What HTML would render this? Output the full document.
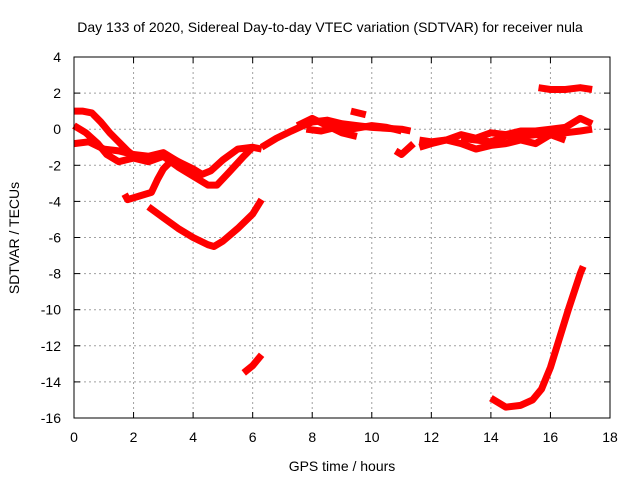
<!DOCTYPE html>
<html><head><meta charset="utf-8"><style>
body{margin:0;background:#fff}
svg{display:block;font-family:"Liberation Sans",sans-serif}
</style></head><body>
<svg id="chart" width="640" height="480">
<text x="330" y="32" font-size="14" text-anchor="middle">Day 133 of 2020, Sidereal Day-to-day VTEC variation (SDTVAR) for receiver nula</text>
<text x="342" y="471" font-size="14" text-anchor="middle">GPS time / hours</text>
<text transform="translate(19,238) rotate(-90)" font-size="14" text-anchor="middle">SDTVAR / TECUs</text>
<g id="grid"></g><g id="ticks"></g><g id="series"></g>
<rect x="74" y="57" width="536" height="361" fill="none" stroke="#000" stroke-width="1"/>
</svg>
<script>
const xTicks=[0,2,4,6,8,10,12,14,16,18];
const yTicks=[4,2,0,-2,-4,-6,-8,-10,-12,-14,-16];
const seriesA=[[0,1.0],[0.3,1.0],[0.6,0.9],[0.9,0.4],[1.2,-0.2],[1.5,-0.7],[1.8,-1.2],[2.1,-1.6],[2.6,-1.5],[3,-1.4],[3.5,-1.8],[4,-2.2],[4.3,-2.5],[4.6,-2.3],[5,-1.7],[5.5,-1.1],[6,-1.0],[6.3,-1.1]];
const seriesB=[[0,0.2],[0.4,-0.2],[0.8,-0.8],[1.1,-1.4],[1.5,-1.8],[2,-1.6],[2.5,-1.8],[3,-1.5],[3.5,-2.1],[4,-2.6],[4.5,-3.1],[4.8,-3.1],[5.2,-2.4],[5.7,-1.5],[6,-1.0]];
const seriesC=[[0,-0.8],[0.5,-0.7],[1,-1.1],[1.5,-1.2],[2,-1.4],[2.5,-1.5],[3,-1.3],[3.3,-1.6],[3.7,-2.0]];
const seriesD=[[1.7,-3.6],[1.8,-3.9],[2.2,-3.7],[2.6,-3.5],[2.8,-2.8],[3.0,-2.2],[3.3,-1.7]];
const seriesE=[[2.5,-4.3],[3,-4.9],[3.5,-5.5],[4,-6.0],[4.5,-6.4],[4.7,-6.5],[5,-6.2],[5.5,-5.5],[6,-4.7],[6.3,-3.9]];
const seriesF=[[5.7,-13.5],[6.0,-13.1],[6.3,-12.5]];
const seriesG=[[14,-14.9],[14.5,-15.4],[15,-15.3],[15.4,-15.0],[15.7,-14.4],[16,-13.2],[16.3,-11.6],[16.6,-10.0],[17,-8.0],[17.1,-7.6]];
const seriesH=[[15.6,2.3],[16,2.2],[16.5,2.2],[17,2.3],[17.4,2.2]];
const seriesI=[[6.3,-1.0],[6.8,-0.5],[7.3,-0.1],[7.7,0.2],[8,0.4],[8.5,0.5],[9,0.3],[9.5,0.2],[10,0.1],[11,0.0],[11.3,-0.1]];
const seriesJ=[[7.5,0.2],[8,0.6],[8.5,0.2],[9,-0.2],[9.5,-0.4]];
const seriesP=[[7.8,0.0],[8.3,-0.1],[8.8,0.1],[9.3,0.0],[10,0.2],[10.5,0.1],[11,-0.1]];
const seriesK=[[9.3,1.0],[9.8,0.8]];
const seriesL=[[10.8,-1.2],[11,-1.4],[11.4,-0.8]];
const seriesM=[[11.6,-0.6],[12,-0.7],[12.5,-0.6],[13,-0.3],[13.5,-0.5],[14,-0.2],[14.5,-0.3],[15,-0.1],[15.5,-0.1],[16,0.0],[16.5,0.1],[17,0.6],[17.4,0.3]];
const seriesN=[[11.6,-1.0],[12,-0.8],[12.5,-0.6],[13,-0.8],[13.5,-1.1],[14,-0.9],[14.5,-0.8],[15,-0.6],[15.5,-0.8],[16,-0.3],[16.5,-0.2],[17,-0.1],[17.4,0.0]];
const seriesO=[[13,-0.5],[14,-0.7],[14.5,-0.4],[15,-0.4],[15.5,-0.3],[16,-0.3],[16.5,-0.6]];
const allSeries=[seriesA,seriesB,seriesC,seriesD,seriesE,seriesF,seriesG,seriesH,seriesI,seriesJ,seriesP,seriesK,seriesL,seriesM,seriesN,seriesO];

const X0=74,X1=610,Y0=418,Y1=57;
function xs(h){return X0+(h-0)/(18-0)*(X1-X0);}
function ys(v){return Y0-(v-(-16))/(4-(-16))*(Y0-Y1);}
const NS="http://www.w3.org/2000/svg";
const grid=document.getElementById('grid'),ticks=document.getElementById('ticks'),ser=document.getElementById('series');
function mk(tag,attrs,parent){const e=document.createElementNS(NS,tag);for(const k in attrs)e.setAttribute(k,attrs[k]);parent.appendChild(e);return e;}
xTicks.forEach(t=>{
  const x=xs(t);
  if(t>0&&t<18){const g=mk('line',{x1:x,x2:x,y1:Y1,y2:Y0,stroke:'#a0a0a0','stroke-dasharray':'2,3'},grid);
  
  }
  mk('line',{x1:x,x2:x,y1:Y0,y2:Y0-6,stroke:'#000'},ticks);
  mk('line',{x1:x,x2:x,y1:Y1,y2:Y1+6,stroke:'#000'},ticks);
  const l=mk('text',{x:x,y:Y0+24,'font-size':14,'text-anchor':'middle'},ticks);l.textContent=t;
  
  
});
yTicks.forEach(t=>{
  const y=ys(t);
  if(t>-16&&t<4){const g=mk('line',{x1:X0,x2:X1,y1:y,y2:y,stroke:'#a0a0a0','stroke-dasharray':'2,3'},grid);
  
  }
  mk('line',{x1:X0,x2:X0+6,y1:y,y2:y,stroke:'#000'},ticks);
  mk('line',{x1:X1,x2:X1-6,y1:y,y2:y,stroke:'#000'},ticks);
  const l=mk('text',{x:X0-13,y:y+5,'font-size':14,'text-anchor':'end'},ticks);l.textContent=t;
  
  
});
allSeries.forEach(s=>{
  const p=mk('polyline',{points:s.map(d=>xs(d[0])+','+ys(d[1])).join(' '),fill:'none',stroke:'#ff0000','stroke-width':7,'stroke-linejoin':'round','stroke-linecap':'butt'},ser);
  
  
});
</script>
</body></html>
